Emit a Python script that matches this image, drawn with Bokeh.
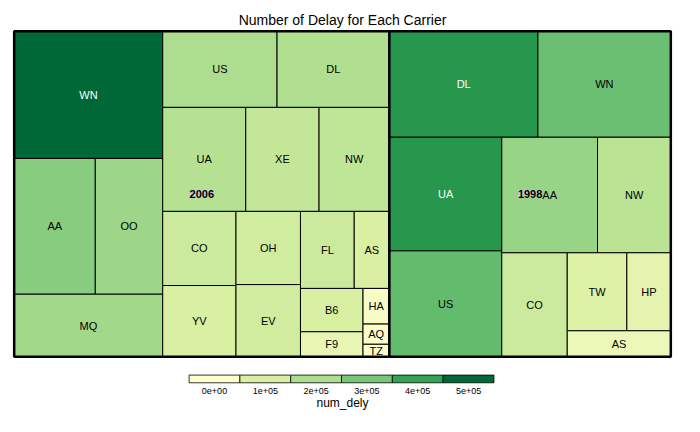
from bokeh.plotting import figure
from bokeh.models import Range1d
from bokeh.embed import file_html
from bokeh.resources import INLINE
from bokeh.core.properties import value

years = ["2006", "1998"]
carriers_2006 = ["WN","AA","OO","MQ","US","DL","UA","XE","NW","CO","YV","OH","EV","FL","AS","B6","F9","HA","AQ","TZ"]
size_2006 = [20064,11703,9729,9880,9243,9085,9180,8100,7776,5775,5550,5016,4950,4400,2880,2880,1664,999,567,351]
dely_2006 = [520000,270000,230000,220000,200000,190000,180000,150000,160000,130000,100000,120000,120000,130000,100000,100000,60000,20000,10000,10000]
carriers_1998 = ["DL","WN","UA","US","AA","NW","CO","TW","HP","AS"]
size_1998 = [16720,14960,13570,12650,11760,9000,7236,4941,3645,2862]
dely_1998 = [420000,320000,420000,330000,240000,170000,130000,90000,70000,50000]
legend_labels = ["0e+00","1e+05","2e+05","3e+05","4e+05","5e+05"]
palette = ["#ffffcc","#d9f0a3","#addd8e","#78c679","#31a354","#006837"]

# nesting of carriers (indices) inside each year
nest_2006 = [[0, [1, 2], 3], [[4, 5], [6, 7, 8], [[9, 10], [11, 12], [[13, 14], [[15, 16], [17, 18, 19]]]]]]
nest_1998 = [[0, 1], [[2, 3], [[4, 5], [6, [[7, 8], 9]]]]]

def total(node, sizes):
    return sizes[node] if isinstance(node, int) else sum(total(c, sizes) for c in node)

def layout(node, sizes, x0, y0, x1, y1, out):
    if isinstance(node, int):
        out[node] = (x0, y0, x1, y1); return
    tot = total(node, sizes)
    horiz = (x1 - x0) >= (y1 - y0)
    pos = x0 if horiz else y0
    for c in node:
        f = total(c, sizes) / tot
        if horiz:
            w = f * (x1 - x0); layout(c, sizes, pos, y0, pos + w, y1, out); pos += w
        else:
            h = f * (y1 - y0); layout(c, sizes, x0, pos, x1, pos + h, out); pos += h

def hexrgb(h): return [int(h[i:i+2], 16) for i in (1, 3, 5)]
def color(v):
    t = min(max(v / 1e5, 0), 5)
    i = min(int(t), 4); f = t - i
    a, b = hexrgb(palette[i]), hexrgb(palette[i+1])
    return "#%02x%02x%02x" % tuple(round(a[k] + (b[k]-a[k])*f) for k in range(3))

X0, Y0, X1, Y1 = 14, 32, 686, 370
t06, t98 = sum(size_2006), sum(size_1998)
xm = X0 + (X1 - X0) * t06 / (t06 + t98)
groups = [(carriers_2006, size_2006, dely_2006, nest_2006, (X0, Y0, xm, Y1)),
          (carriers_1998, size_1998, dely_1998, nest_1998, (xm, Y0, X1, Y1))]

p = figure(width=684, height=416, output_backend="svg", toolbar_location=None,
           x_range=Range1d(0, 700), y_range=Range1d(432, 0), min_border=0)
p.axis.visible = False; p.grid.visible = False; p.outline_line_color = None

F = value("Liberation Sans")
for yr, (cars, sizes, dely, nest, r) in zip(years, groups):
    out = {}
    layout(nest, sizes, *r, out)
    xs = [(out[i][0]+out[i][2])/2 for i in range(len(cars))]
    ys = [(out[i][1]+out[i][3])/2 for i in range(len(cars))]
    ws = [out[i][2]-out[i][0] for i in range(len(cars))]
    hs = [out[i][3]-out[i][1] for i in range(len(cars))]
    p.rect(xs, ys, ws, hs, fill_color=[color(d) for d in dely], line_color="black", line_width=1)
    p.text(xs, ys, text=cars, text_align="center", text_baseline="middle", text_font=F,
           text_font_size="11px", text_color=["white" if d >= 350000 else "black" for d in dely])
    p.rect([(r[0]+r[2])/2], [(r[1]+r[3])/2], [r[2]-r[0]], [r[3]-r[1]], fill_alpha=0, line_color="black", line_width=2.5)
    p.text([(r[0]+r[2])/2], [(r[1]+r[3])/2], text=[yr], text_align="center", text_baseline="middle",
           text_font=F, text_font_size="11px", text_font_style="bold", text_color="black",
           background_fill_color="#c8c8d8", background_fill_alpha=0.8)

p.text([350], [20], text=["Number of Delay for Each Carrier"], text_align="center", text_baseline="middle",
       text_font=F, text_font_size="14px")
lx = [219 + 52*i for i in range(len(legend_labels))]
p.rect(lx, [393]*6, [52]*6, [8]*6, fill_color=palette, line_color="black", line_width=0.8)
p.text(lx, [405]*6, text=legend_labels, text_align="center", text_baseline="middle", text_font=F, text_font_size="9px")
p.text([350], [418], text=["num_dely"], text_align="center", text_baseline="middle", text_font=F, text_font_size="12px")

open("out.html", "w").write(file_html(p, INLINE))
